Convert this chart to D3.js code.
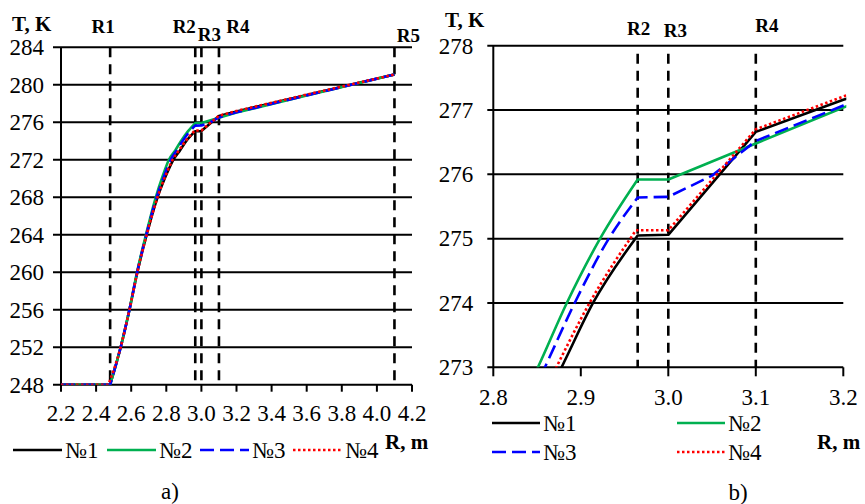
<!DOCTYPE html>
<html>
<meta charset="utf-8">
<style>
  body {
    margin: 0;
    background-color: #fff;
  }
  svg text {
    fill: #000;
  }
  .bold {
    font-weight: bold;
  }
</style>
<body>
<script src="https://cdn.jsdelivr.net/npm/d3@7/dist/d3.min.js"></script>
<script>

// Temperature (K) against radius (m), four variants
var r1 = [2.2, 2.48, 2.54, 2.59, 2.635, 2.688, 2.75, 2.8, 2.84, 2.878, 2.914, 2.965, 3.0, 3.1, 3.2, 3.6, 4.1];
var t1 = [248, 248, 252, 256, 260, 264, 268, 270.4, 272, 273, 274, 275.05, 275.06, 276.66, 277.16, 278.92, 281.1];

var r2 = [2.2, 2.48, 2.54, 2.59, 2.633, 2.684, 2.74, 2.78, 2.815, 2.851, 2.884, 2.922, 2.965, 3.0, 3.1, 3.2, 3.6, 4.1];
var t2 = [248, 248, 252, 256, 260, 264, 268, 270.3, 272, 273, 274, 275, 275.92, 275.92, 276.48, 277.04, 278.85, 281.1];

var r3 = [2.2, 2.48, 2.54, 2.59, 2.634, 2.686, 2.745, 2.79, 2.825, 2.859, 2.893, 2.932, 2.965, 3.0, 3.05, 3.1, 3.2, 3.6, 4.1];
var t3 = [248, 248, 252, 256, 260, 264, 268, 270.4, 272, 273, 274, 275, 275.64, 275.65, 275.98, 276.52, 277.07, 278.87, 281.1];

var r4 = [2.2, 2.47, 2.54, 2.59, 2.635, 2.688, 2.75, 2.8, 2.836, 2.872, 2.91, 2.963, 3.0, 3.1, 3.2, 3.6, 4.1];
var t4 = [248, 248, 252, 256, 260, 264, 268, 270.5, 272, 273, 274, 275.13, 275.13, 276.7, 277.21, 278.95, 281.1];

var seriesNames = ['№1', '№2', '№3', '№4'];

// characteristic radii
var markerNames = ['R1', 'R2', 'R3', 'R4', 'R5'];
var markerR = [2.48, 2.965, 3.0, 3.1, 4.1];

// axis ticks
var xTicksA = [2.2, 2.4, 2.6, 2.8, 3.0, 3.2, 3.4, 3.6, 3.8, 4.0, 4.2];
var yTicksA = [248, 252, 256, 260, 264, 268, 272, 276, 280, 284];
var xTicksB = [2.8, 2.9, 3.0, 3.1, 3.2];
var yTicksB = [273, 274, 275, 276, 277, 278];

// styles
var seriesColors = ['#000000', '#00b050', '#0000ff', '#ff0000'];
var seriesDash = [null, null, '14,6', '2.5,2.5'];
var serif = '"Liberation Serif", "Times New Roman", serif';

var series = [[r1, t1], [r2, t2], [r3, t3], [r4, t4]].map(function(p, i) {
  return {
    name: seriesNames[i],
    values: p[0].map(function(r, j) { return { r: r, t: p[1][j] }; })
  };
});

var svg = d3.select('body')
  .append('svg')
  .attr('width', 865)
  .attr('height', 504)
  .attr('font-family', serif);

function drawPanel(cfg) {
  var x = d3.scaleLinear().domain(cfg.xDomain).range([cfg.left, cfg.right]);
  var y = d3.scaleLinear().domain(cfg.yDomain).range([cfg.bottom, cfg.top]);
  var g = svg.append('g');

  // horizontal gridlines (with the little ticks left of the axis)
  g.selectAll('line.grid')
    .data(cfg.yTicks)
    .enter()
    .append('line')
    .attr('x1', cfg.left - cfg.tickLen)
    .attr('x2', cfg.right)
    .attr('y1', function(d) { return y(d); })
    .attr('y2', function(d) { return y(d); })
    .style('stroke', '#000')
    .style('stroke-width', 2);

  // y axis line
  g.append('line')
    .attr('x1', cfg.left).attr('x2', cfg.left)
    .attr('y1', cfg.top).attr('y2', cfg.bottom)
    .style('stroke', '#000')
    .style('stroke-width', 2);

  // x ticks below the axis
  g.selectAll('line.xtick')
    .data(cfg.xTicks)
    .enter()
    .append('line')
    .attr('x1', function(d) { return x(d); })
    .attr('x2', function(d) { return x(d); })
    .attr('y1', cfg.bottom)
    .attr('y2', cfg.bottom + cfg.xTickLen)
    .style('stroke', '#000')
    .style('stroke-width', 2);

  g.selectAll('text.ylab')
    .data(cfg.yTicks)
    .enter()
    .append('text')
    .attr('x', cfg.left - cfg.yLabGap)
    .attr('y', function(d) { return y(d); })
    .attr('dy', '0.34em')
    .attr('text-anchor', 'end')
    .style('font-size', '23px')
    .text(function(d) { return d; });

  g.selectAll('text.xlab')
    .data(cfg.xTicks)
    .enter()
    .append('text')
    .attr('x', function(d) { return x(d); })
    .attr('y', cfg.xLabY)
    .attr('text-anchor', 'middle')
    .style('font-size', '23px')
    .text(function(d) { return d3.format('.1f')(d); });

  // dashed marker lines
  var marks = markerR.map(function(r, i) { return { r: r, name: markerNames[i] }; })
    .filter(function(d) { return d.r >= cfg.xDomain[0] && d.r <= cfg.xDomain[1]; });

  g.selectAll('line.mark')
    .data(marks)
    .enter()
    .append('line')
    .attr('x1', function(d) { return x(d.r); })
    .attr('x2', function(d) { return x(d.r); })
    .attr('y1', cfg.top + cfg.markTopPad)
    .attr('y2', cfg.bottom)
    .style('stroke', '#000')
    .style('stroke-width', 2.6)
    .style('stroke-dasharray', '10,7');

  g.selectAll('text.mark')
    .data(marks)
    .enter()
    .append('text')
    .attr('class', 'bold')
    .attr('x', function(d) { return x(d.r) + cfg.markLabDx[d.name]; })
    .attr('y', function(d) { return cfg.markLabY[d.name]; })
    .attr('text-anchor', 'middle')
    .style('font-size', '19px')
    .text(function(d) { return d.name; });

  // curves: smooth up to R2, straight pieces after it
  var clipId = 'clip' + cfg.id;
  svg.append('clipPath')
    .attr('id', clipId)
    .append('rect')
    .attr('x', cfg.left)
    .attr('y', cfg.top - 3)
    .attr('width', cfg.right - cfg.left + 3)
    .attr('height', cfg.bottom - cfg.top + 3);

  var smooth = d3.line()
    .curve(d3.curveMonotoneX)
    .x(function(d) { return x(d.r); })
    .y(function(d) { return y(d.t); });
  var straight = d3.line()
    .x(function(d) { return x(d.r); })
    .y(function(d) { return y(d.t); });

  function curvePath(vals) {
    var k = d3.bisector(function(d) { return d.r; }).left(vals, markerR[1] - 0.01);
    var head = vals.slice(1, k + 1);
    return straight(vals.slice(0, 2)) + smooth(head).replace(/^M/, 'L') +
      straight(vals.slice(k)).replace(/^M/, 'L');
  }

  g.append('g')
    .attr('clip-path', 'url(#' + clipId + ')')
    .selectAll('path')
    .data(series)
    .enter()
    .append('path')
    .attr('d', function(d) { return curvePath(d.values); })
    .style('fill', 'none')
    .style('stroke', function(d, i) { return seriesColors[i]; })
    .style('stroke-width', 2.6)
    .style('stroke-linejoin', 'round')
    .style('stroke-dasharray', function(d, i) { return seriesDash[i]; });

  // axis titles
  g.append('text')
    .attr('class', 'bold')
    .attr('x', cfg.tkX)
    .attr('y', cfg.tkY)
    .style('font-size', '21px')
    .text('T, K');

  g.append('text')
    .attr('class', 'bold')
    .attr('x', cfg.rmX)
    .attr('y', cfg.rmY)
    .style('font-size', '21px')
    .text('R, m');

  // legend
  var leg = g.selectAll('g.leg')
    .data(series)
    .enter()
    .append('g')
    .attr('transform', function(d, i) {
      return 'translate(' + cfg.legPos[i][0] + ',' + cfg.legPos[i][1] + ')';
    });

  leg.append('line')
    .attr('x1', 0)
    .attr('x2', cfg.legLen)
    .style('stroke', function(d, i) { return seriesColors[i]; })
    .style('stroke-width', 2.6)
    .style('stroke-dasharray', function(d, i) { return seriesDash[i]; });

  leg.append('text')
    .attr('x', cfg.legLen + 3)
    .attr('dy', '0.34em')
    .style('font-size', '23px')
    .text(function(d) { return d.name; });

  g.append('text')
    .attr('x', cfg.capX)
    .attr('y', cfg.capY)
    .attr('text-anchor', 'middle')
    .style('font-size', '23px')
    .text(cfg.caption);
}

drawPanel({
  id: 'a',
  left: 61, right: 412, top: 47.3, bottom: 384.7,
  xDomain: [2.2, 4.2], yDomain: [248, 284],
  xTicks: xTicksA, yTicks: yTicksA,
  tickLen: 8, xTickLen: 7, yLabGap: 17, xLabY: 421,
  markTopPad: 0,
  markLabDx: { R1: -7, R2: -11, R3: 8, R4: 19, R5: 14 },
  markLabY: { R1: 33, R2: 33, R3: 40.5, R4: 32.6, R5: 41.5 },
  tkX: 12, tkY: 30.5,
  rmX: 385, rmY: 449,
  legPos: [[13, 450], [107, 450], [200, 450], [293, 450]],
  legLen: 49,
  capX: 170, capY: 499, caption: 'a)'
});

drawPanel({
  id: 'b',
  left: 493.3, right: 843.3, top: 45.7, bottom: 367.3,
  xDomain: [2.8, 3.2], yDomain: [273, 278],
  xTicks: xTicksB, yTicks: yTicksB,
  tickLen: 6, xTickLen: 9, yLabGap: 20, xLabY: 405,
  markTopPad: 8,
  markLabDx: { R2: 1, R3: 7, R4: 11 },
  markLabY: { R2: 35, R3: 36.7, R4: 32.3 },
  tkX: 445, tkY: 27,
  rmX: 817, rmY: 449,
  legPos: [[492, 423], [677, 423], [492, 452], [677, 452]],
  legLen: 48,
  capX: 738, capY: 500, caption: 'b)'
});

</script>
</body>
</html>
